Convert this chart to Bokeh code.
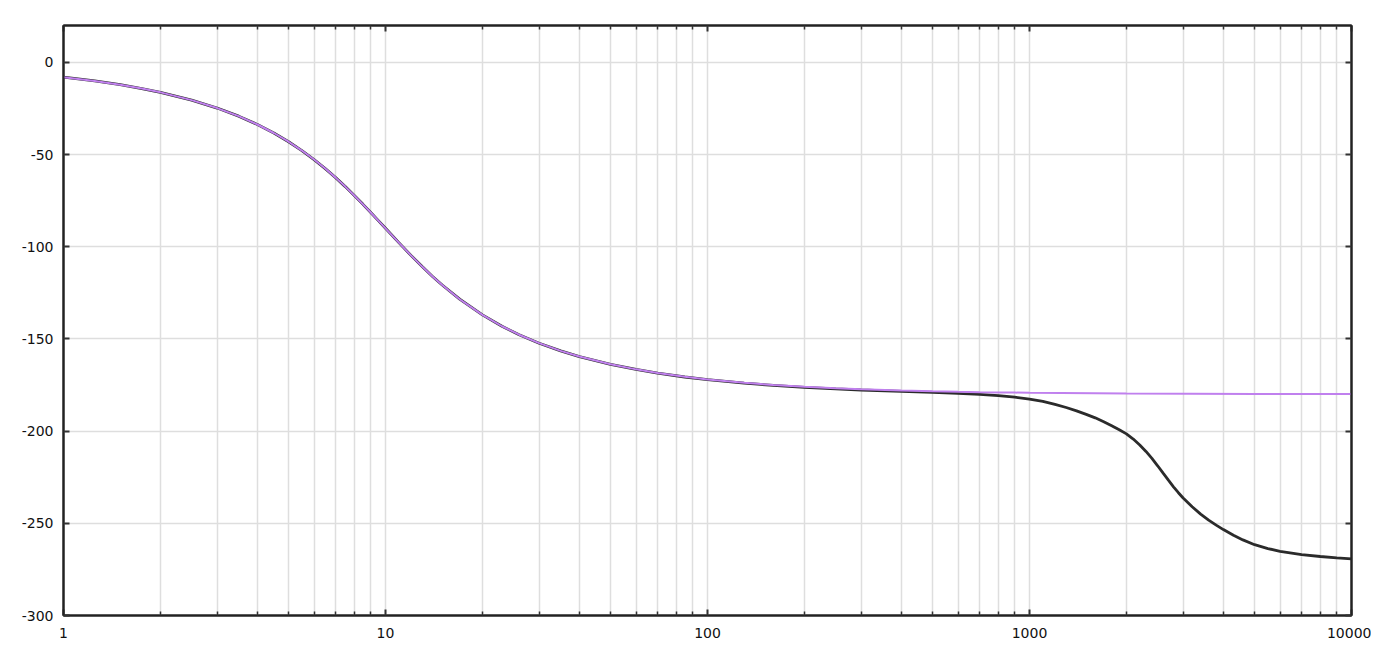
from bokeh.plotting import figure
from bokeh.models import FixedTicker, LinearAxis, LogAxis, CustomJSTickFormatter, Range1d, ColumnDataSource
from bokeh.embed import file_html
from bokeh.resources import INLINE

# Purple series: frequency (x, log scale) and phase (degrees)
freq_purple = [1, 1.25, 1.5, 1.75, 2, 2.5, 3, 3.5, 4, 4.5, 5, 5.5, 6, 6.5, 7, 7.5, 8, 8.5, 9, 9.5,
               10, 11, 12, 13, 14, 15, 17, 20, 23, 26, 30, 35, 40, 50, 60, 70, 85, 100, 130, 160,
               200, 250, 300, 400, 500, 600, 700, 800, 900, 1000, 2000, 5000, 10000]
phase_purple = [-8.05, -10.08, -12.12, -14.18, -16.26, -20.47, -24.78, -29.18, -33.69, -38.31,
                -43.03, -47.83, -52.70, -57.60, -62.51, -67.38, -72.18, -76.87, -81.43, -85.81,
                -90.0, -97.77, -104.68, -110.76, -116.1, -120.76, -128.45, -136.97, -143.12, -147.71,
                -152.30, -156.46, -159.53, -163.74, -166.5, -168.46, -170.52, -171.95, -173.82, -174.98,
                -175.99, -176.79, -177.33, -178.0, -178.4, -178.66, -178.85, -179.0, -179.11, -179.2,
                -179.6, -179.84, -179.92]

# Black series: frequency (x, log scale) and phase (degrees)
freq_black = [1, 1.25, 1.5, 1.75, 2, 2.5, 3, 3.5, 4, 4.5, 5, 5.5, 6, 6.5, 7, 7.5, 8, 8.5, 9, 9.5,
              10, 11, 12, 13, 14, 15, 17, 20, 23, 26, 30, 35, 40, 50, 60, 70, 85, 100, 130, 160,
              200, 250, 300, 400, 500, 600, 700, 800, 900, 1000, 1100, 1200, 1300, 1400, 1500,
              1600, 1700, 1800, 1900, 2000, 2100, 2200, 2300, 2400, 2500, 2600, 2700, 2800, 2900,
              3000, 3200, 3400, 3600, 3800, 4000, 4300, 4600, 5000, 5500, 6000, 7000, 8000, 9000, 10000]
phase_black = [-8.05, -10.08, -12.12, -14.18, -16.26, -20.47, -24.78, -29.18, -33.69, -38.31,
               -43.03, -47.83, -52.70, -57.60, -62.51, -67.38, -72.18, -76.87, -81.43, -85.81,
               -90.0, -97.77, -104.68, -110.76, -116.1, -120.76, -128.45, -136.97, -143.12, -147.72,
               -152.32, -156.49, -159.56, -163.79, -166.57, -168.55, -170.64, -172.1, -174.0, -175.2,
               -176.25, -177.1, -177.7, -178.4, -178.95, -179.5, -180.1, -180.8, -181.6, -182.6,
               -183.9, -185.5, -187.2, -189.0, -190.9, -192.8, -194.9, -197.1, -199.3, -201.5,
               -204.3, -207.5, -211.0, -214.8, -218.8, -222.8, -226.6, -230.2, -233.4, -236.3,
               -241.0, -245.0, -248.3, -251.0, -253.4, -256.5, -259.0, -261.6, -263.7, -265.2,
               -267.0, -268.0, -268.8, -269.3]

x_ticks = [1, 10, 100, 1000, 10000]
x_minor = [m * d for d in (1, 10, 100, 1000) for m in range(2, 10)]
y_ticks = [0, -50, -100, -150, -200, -250, -300]

src_p = ColumnDataSource(dict(f=freq_purple, ph=phase_purple))
src_b = ColumnDataSource(dict(f=freq_black, ph=phase_black))

p = figure(width=1371, height=655, x_axis_type="log", output_backend="svg",
           toolbar_location=None, x_range=Range1d(1, 10000), y_range=Range1d(-300, 20),
           x_axis_location=None, y_axis_location=None,
           min_border_left=63, min_border_right=20, min_border_top=25, min_border_bottom=40)

xt = FixedTicker(ticks=x_ticks, minor_ticks=x_minor)
yt = FixedTicker(ticks=y_ticks)
fmt = CustomJSTickFormatter(code="return tick.toFixed(0);")

grid_col = "#dedede"

def style_axis(ax, labels=True):
    ax.axis_line_color = "#222222"
    ax.axis_line_width = 2
    ax.major_tick_in = 6
    ax.major_tick_out = 0
    ax.major_tick_line_color = "#333333"
    ax.major_tick_line_width = 2
    ax.minor_tick_in = 4
    ax.minor_tick_out = 0
    ax.minor_tick_line_color = "#333333"
    ax.minor_tick_line_width = 1.5
    ax.major_label_text_font = "DejaVu Sans"
    ax.major_label_text_font_size = "14px"
    ax.major_label_text_color = "#111111"
    if not labels:
        ax.major_label_text_font_size = "0px"
        ax.major_label_text_alpha = 0

bx = LogAxis(ticker=xt, formatter=fmt)
style_axis(bx)
bx.major_label_standoff = 12
p.add_layout(bx, "below")

tx = LogAxis(ticker=xt, formatter=fmt)
style_axis(tx, labels=False)
p.add_layout(tx, "above")

ly = LinearAxis(ticker=yt, formatter=fmt)
style_axis(ly)
ly.minor_tick_in = 0
ly.major_label_standoff = 10
p.add_layout(ly, "left")

ry = LinearAxis(ticker=yt, formatter=fmt)
style_axis(ry, labels=False)
ry.minor_tick_in = 0
p.add_layout(ry, "right")

p.xgrid.ticker = xt
p.ygrid.ticker = yt
for g in (p.xgrid, p.ygrid):
    g.grid_line_color = grid_col
    g.grid_line_width = 1.5
p.xgrid.minor_grid_line_color = grid_col
p.xgrid.minor_grid_line_width = 1.5

p.outline_line_color = "#222222"
p.outline_line_width = 2

p.line("f", "ph", source=src_b, line_color="#2b2b2b", line_width=2.8)
p.line("f", "ph", source=src_p, line_color="#c080ee", line_width=2)

open("out.html", "w").write(file_html(p, INLINE))
